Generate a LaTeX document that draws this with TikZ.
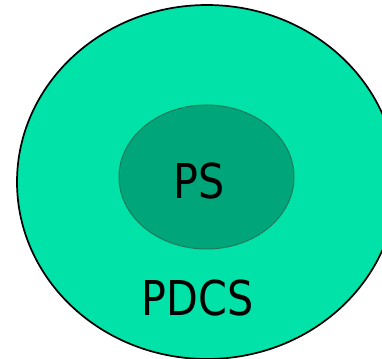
\documentclass[tikz,border=0pt]{standalone}
\usepackage{fontspec}
\setmainfont{DejaVu Sans}
\usetikzlibrary{shapes.geometric,positioning}
\definecolor{outergreen}{HTML}{00E2A8}
\definecolor{innergreen}{HTML}{00A67A}
\definecolor{edgegreen}{HTML}{1E7A5C}

\begin{document}
\begin{tikzpicture}[x=1pt, y=-1pt, font=\fontsize{48}{48}\selectfont]
        \useasboundingbox (0,0) rectangle (382,358);
        \node[ellipse, draw=black, line width=1.7pt, fill=outergreen, minimum width=380pt, minimum height=354pt, inner sep=0pt] (pdcs) at (207,182) {};
        \node[ellipse, draw=edgegreen, line width=1pt, fill=innergreen, minimum width=175pt, minimum height=144pt, inner sep=0pt] (ps) at (206.5,177) {};
        \node[anchor=base] (pslabel) at (199.5,198) {\scalebox{0.86}[1]{PS}};
        \node[anchor=base] (pdcslabel) at (197.5,315) {\scalebox{0.86}[1]{PDCS}};
\end{tikzpicture}
\end{document}
